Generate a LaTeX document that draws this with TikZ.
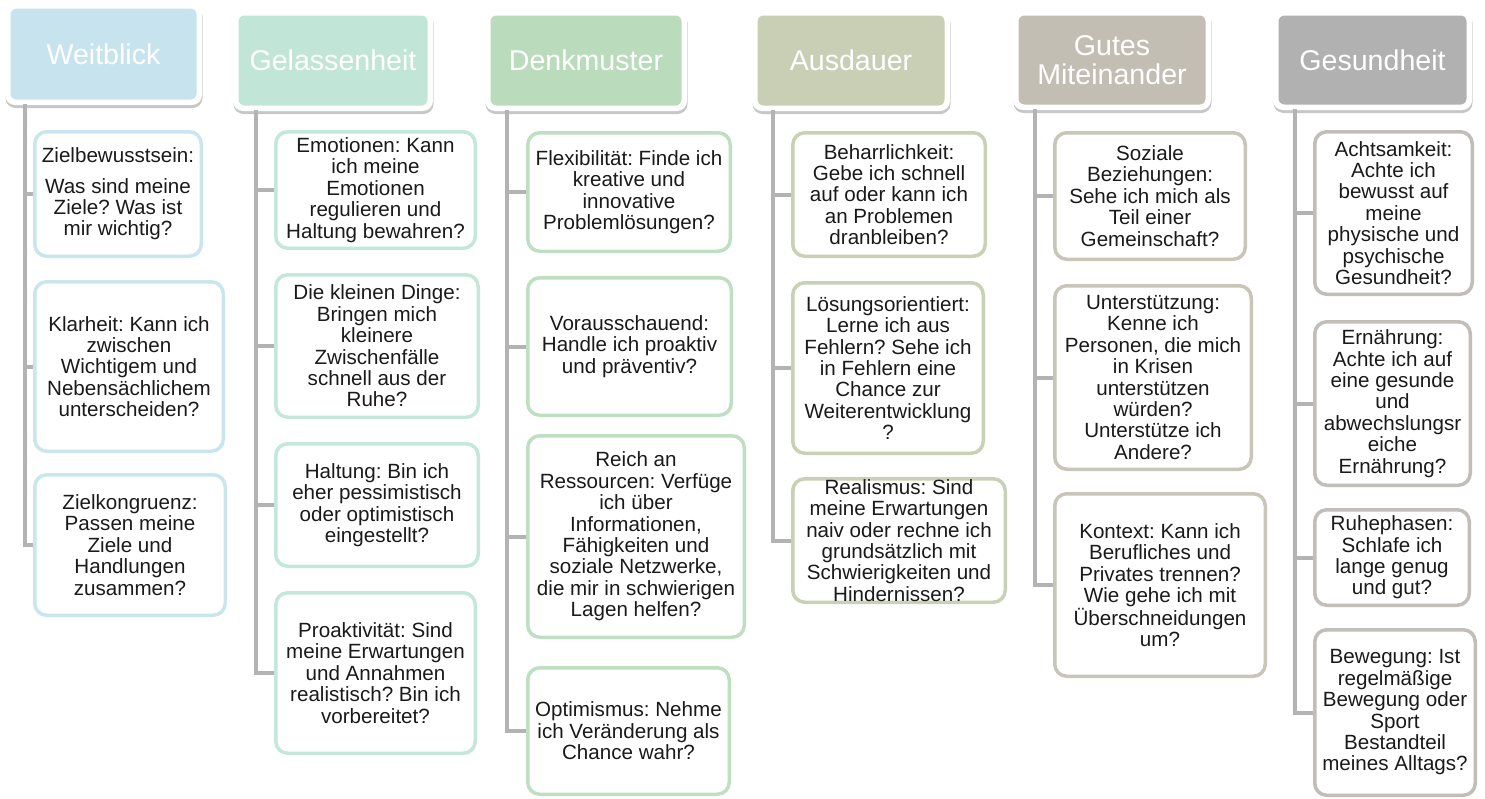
\documentclass[tikz,border=0pt]{standalone}
\usepackage{fontspec}
\setmainfont{Liberation Sans}
\usetikzlibrary{shadows}
\frenchspacing
\definecolor{hA}{HTML}{C7E3ED}\definecolor{bA}{HTML}{C9E6EF}
\definecolor{hB}{HTML}{C1E6D7}\definecolor{bB}{HTML}{C3E8DA}
\definecolor{hC}{HTML}{BBDBBD}\definecolor{bC}{HTML}{BEDFC1}
\definecolor{hD}{HTML}{C8CFB5}\definecolor{bD}{HTML}{C8D0B5}
\definecolor{hE}{HTML}{C2BEB4}\definecolor{bE}{HTML}{C7C6B7}
\definecolor{hF}{HTML}{B1B1B1}\definecolor{bF}{HTML}{C1BDB8}
\definecolor{lgray}{HTML}{B3B3B3}
\definecolor{txt}{HTML}{1A1A1A}
\newcommand\cfont{\fontsize{20.6}{21.4}\selectfont\frenchspacing}
\newcommand\hfont{\fontsize{28.6}{29}\selectfont}
\tikzset{
  hout/.style={fill=white, rounded corners=10pt, inner sep=0pt,
    drop shadow={shadow xshift=0.5pt, shadow yshift=-3pt, opacity=0.22, fill=black}},
  hin/.style={fill=#1, rounded corners=6pt, inner sep=0pt, text=white, font=\hfont, align=center},
  cb/.style={draw=#1, line width=3.5pt, fill=white, rounded corners=12pt, inner sep=0pt,
    align=center, font=\cfont, text=txt},
  conn/.style={draw=lgray, line width=4pt}
}
% name, colour, x1, y1, x2, y2, text
\newcommand\mybox[7]{\node[cb=#2, minimum width={#5-#3-3.5}, minimum height={#6-#4-3.5}]
  (#1) at ({(#3+#5)/2},{(#4+#6)/2}) {#7};}
\newcommand\myhdr[7]{%
  \node[hout, minimum width={#5-#3}, minimum height={#6-#4}] (#1o) at ({(#3+#5)/2},{(#4+#6)/2}) {};
  \node[hin=#2, minimum width={#5-#3-11}, minimum height={#6-#4-11}] (#1) at ({(#3+#5)/2},{(#4+#6)/2}) {#7};}
\begin{document}
\begin{tikzpicture}[x=1pt,y=-1pt]
\useasboundingbox (0,0) rectangle (1485,798);
\fill[white] (0,0) rectangle (1485,798);

% headers
\myhdr{h1}{hA}{5}{3}{202}{105}{Weitblick}
\myhdr{h2}{hB}{233}{10}{433}{111}{Gelassenheit}
\myhdr{h3}{hC}{485}{10}{687}{111}{Denkmuster}
\myhdr{h4}{hD}{752}{10}{950}{111}{Ausdauer}
\myhdr{h5}{hE}{1013}{10}{1211}{110}{Gutes\\Miteinander}
\myhdr{h6}{hF}{1273}{10}{1472}{110}{Gesundheit}

% column 1
\mybox{c11}{bA}{33}{130}{203}{258}{Zielbewusstsein:\\[9pt]Was sind meine\\Ziele? Was ist\\mir wichtig?}
\mybox{c12}{bA}{33}{280}{225}{453}{Klarheit: Kann ich\\zwischen\\Wichtigem und\\Nebensächlichem\\unterscheiden?}
\mybox{c13}{bA}{33}{473}{227}{617}{Zielkongruenz:\\Passen meine\\Ziele und\\Handlungen\\zusammen?}
% column 2
\mybox{c21}{bB}{274}{130}{477}{250}{Emotionen: Kann\\ich meine\\Emotionen\\regulieren und\\Haltung bewahren?}
\mybox{c22}{bB}{274}{273}{480}{419}{Die kleinen Dinge:\\Bringen mich\\kleinere\\Zwischenfälle\\schnell aus der\\Ruhe?}
\mybox{c23}{bB}{274}{442}{480}{568}{Haltung: Bin ich\\eher pessimistisch\\oder optimistisch\\eingestellt?}
\mybox{c24}{bB}{274}{591}{477}{755}{Proaktivität: Sind\\meine Erwartungen\\und Annahmen\\realistisch? Bin ich\\vorbereitet?}
% column 3
\mybox{c31}{bC}{526}{131}{732}{253}{Flexibilität: Finde ich\\kreative und\\innovative\\Problemlösungen?}
\mybox{c32}{bC}{526}{276}{733}{417}{Vorausschauend:\\Handle ich proaktiv\\und präventiv?}
\mybox{c33}{bC}{526}{434}{746}{639}{Reich an\\Ressourcen: Verfüge\\ich über\\Informationen,\\Fähigkeiten und\\soziale Netzwerke,\\die mir in schwierigen\\Lagen helfen?}
\mybox{c34}{bC}{526}{666}{731}{796}{Optimismus: Nehme\\ich Veränderung als\\Chance wahr?}
% column 4
\mybox{c41}{bD}{791}{131}{987}{258}{Beharrlichkeit:\\Gebe ich schnell\\auf oder kann ich\\an Problemen\\dranbleiben?}
\mybox{c42}{bD}{791}{281}{985}{455}{Lösungsorientiert:\\Lerne ich aus\\Fehlern? Sehe ich\\in Fehlern eine\\Chance zur\\Weiterentwicklung\\?}
\mybox{c43}{bD}{791}{477}{1007}{604}{Realismus: Sind\\meine Erwartungen\\naiv oder rechne ich\\grundsätzlich mit\\Schwierigkeiten und\\Hindernissen?}
% column 5
\mybox{c51}{bE}{1053}{131}{1247}{261}{Soziale\\Beziehungen:\\Sehe ich mich als\\Teil einer\\Gemeinschaft?}
\mybox{c52}{bE}{1053}{284}{1253}{471}{Unterstützung:\\Kenne ich\\Personen, die mich\\in Krisen\\unterstützen\\würden?\\Unterstütze ich\\Andere?}
\mybox{c53}{bE}{1053}{492}{1267}{678}{Kontext: Kann ich\\Berufliches und\\Privates trennen?\\Wie gehe ich mit\\Überschneidungen\\um?}
% column 6
\mybox{c61}{bF}{1313}{130}{1474}{296}{Achtsamkeit:\\Achte ich\\bewusst auf\\meine\\physische und\\psychische\\Gesundheit?}
\mybox{c62}{bF}{1313}{320}{1472}{487}{Ernährung:\\Achte ich auf\\eine gesunde\\und\\abwechslungsr\\eiche\\Ernährung?}
\mybox{c63}{bF}{1313}{508}{1471}{607}{Ruhephasen:\\Schlafe ich\\lange genug\\und gut?}
\mybox{c64}{bF}{1313}{628}{1477}{797}{Bewegung: Ist\\regelmäßige\\Bewegung oder\\Sport\\Bestandteil\\meines Alltags?}

% connectors
\coordinate (v1) at (25,104);
\coordinate (v2) at (256,110);
\coordinate (v3) at (507,110);
\coordinate (v4) at (773,110);
\coordinate (v5) at (1035,109);
\coordinate (v6) at (1295,109);
\draw[conn] (v1) |- (c13.west);
\draw[conn] (c11.west -| v1) -- (c11.west);
\draw[conn] (c12.west -| v1) -- (c12.west);
\draw[conn] (v2) |- (c24.west);
\draw[conn] (c21.west -| v2) -- (c21.west);
\draw[conn] (c22.west -| v2) -- (c22.west);
\draw[conn] (c23.west -| v2) -- (c23.west);
\draw[conn] (v3) |- (c34.west);
\draw[conn] (c31.west -| v3) -- (c31.west);
\draw[conn] (c32.west -| v3) -- (c32.west);
\draw[conn] (c33.west -| v3) -- (c33.west);
\draw[conn] (v4) |- (c43.west);
\draw[conn] (c41.west -| v4) -- (c41.west);
\draw[conn] (c42.west -| v4) -- (c42.west);
\draw[conn] (v5) |- (c53.west);
\draw[conn] (c51.west -| v5) -- (c51.west);
\draw[conn] (c52.west -| v5) -- (c52.west);
\draw[conn] (v6) |- (c64.west);
\draw[conn] (c61.west -| v6) -- (c61.west);
\draw[conn] (c62.west -| v6) -- (c62.west);
\draw[conn] (c63.west -| v6) -- (c63.west);
\end{tikzpicture}
\end{document}
